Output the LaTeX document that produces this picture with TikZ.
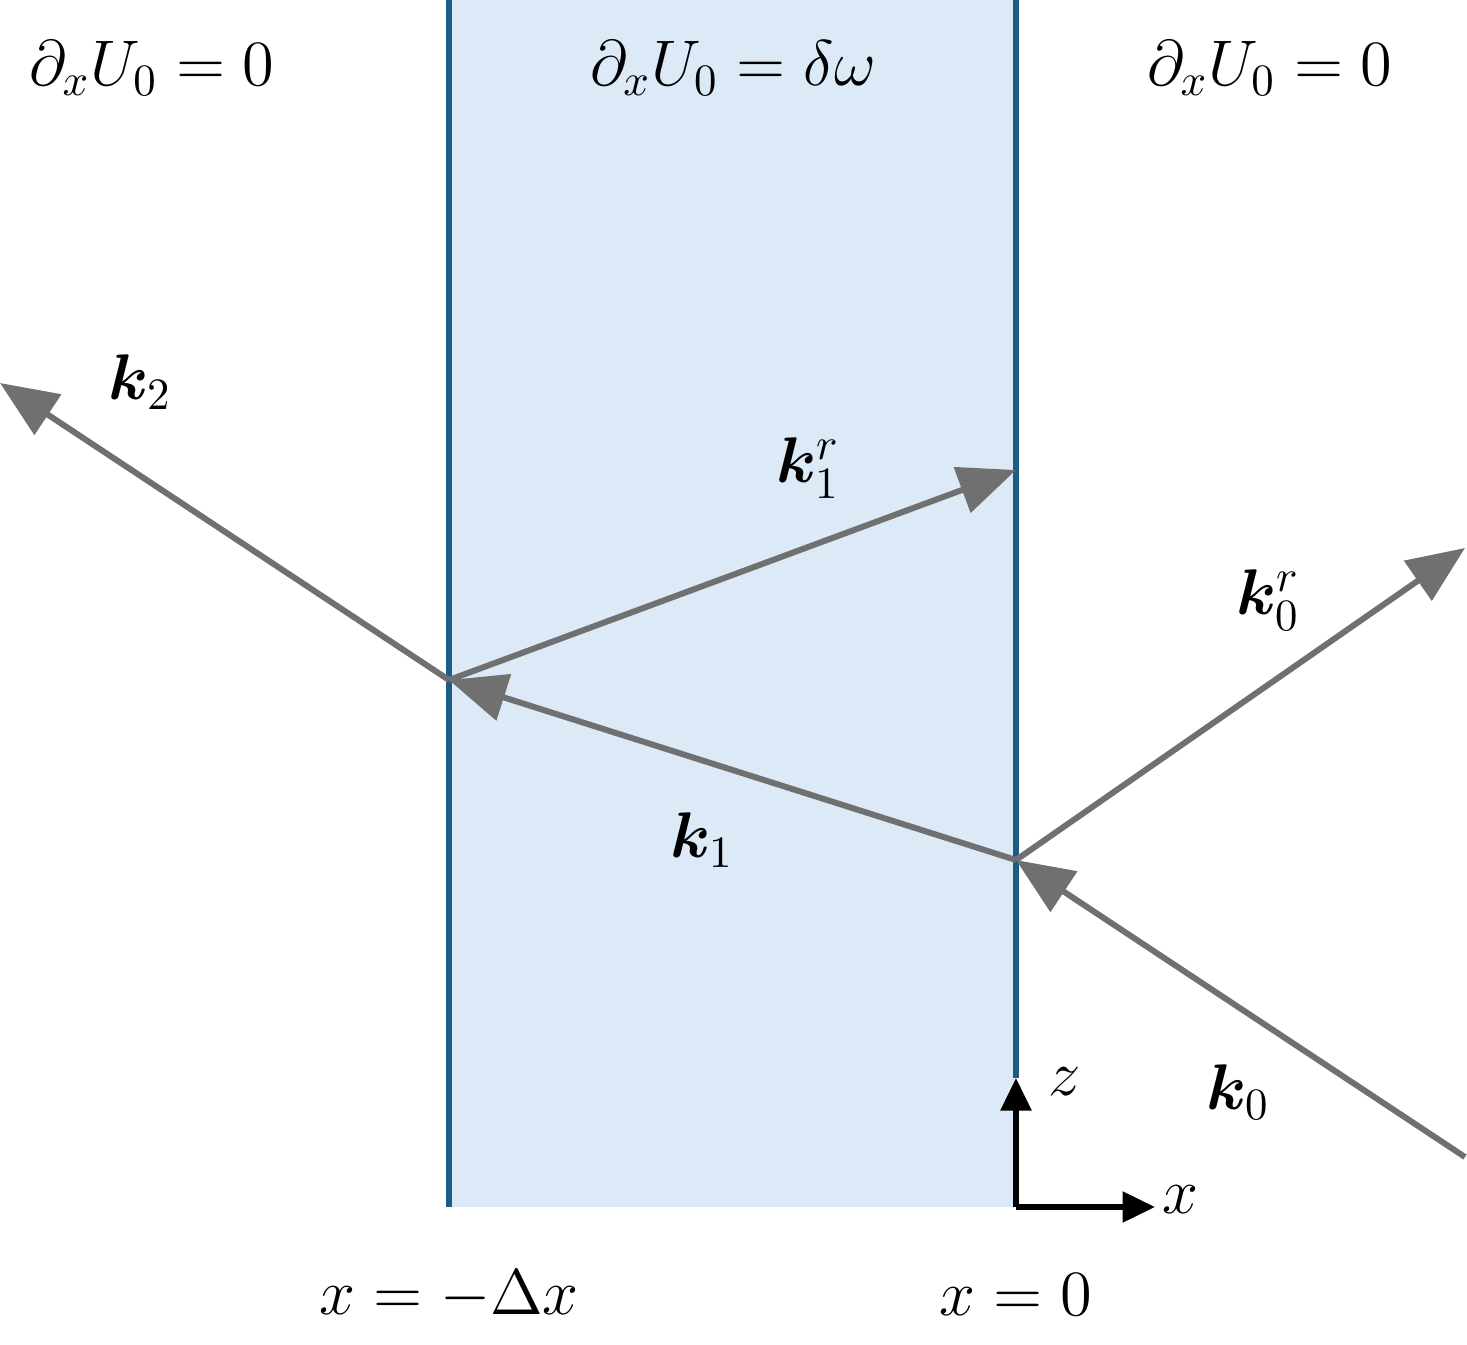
\documentclass[tikz,border=0pt]{standalone}
\usetikzlibrary{arrows.meta}
\usepackage{amsmath,bm,graphicx}
\newcommand{\bigt}[1]{\scalebox{2.55}{\fontsize{14}{17}\selectfont #1}}
\begin{document}
\begin{tikzpicture}[x=0.02cm,y=-0.02cm,
  ray/.style={color={rgb,255:red,112;green,112;blue,112}, line width=3.4pt, -{Triangle[length=1.15cm,width=0.95cm]}},
  wall/.style={draw={rgb,255:red,27;green,94;blue,133}, line width=3.2pt},
  ax/.style={line width=3.2pt, -{Triangle[length=0.65cm,width=0.6cm]}},
  lbl/.style={inner sep=0pt}]
\useasboundingbox (0,0) rectangle (1467,1345);
\fill[fill={rgb,255:red,220;green,233;blue,246}] (449,0) rectangle (1016,1207);
\draw[wall] (449,0) -- (449,1207);
\draw[wall] (1016,0) -- (1016,1078);
\coordinate (s0) at (1465,1157);
\coordinate (p) at (1016,860);
\coordinate (e0) at (1465,548);
\coordinate (q) at (449,680);
\coordinate (e1) at (1016,470);
\coordinate (e2) at (0,383);
\draw[ray] (s0) -- (p);
\draw[ray] (p) -- (e0);
\draw[ray] (p) -- (q);
\draw[ray] (q) -- (e1);
\draw[ray] (q) -- (e2);
\coordinate (o) at (1016,1207);
\coordinate (zt) at (1016,1078);
\coordinate (xt) at (1155,1207);
\draw[ax] (o) -- (zt);
\draw[ax] (o) -- (xt);
\node[lbl] (t1) at (152,68) {\bigt{$\partial_x U_0 = 0$}};
\node[lbl] (t2) at (733,68) {\bigt{$\partial_x U_0 = \delta\omega$}};
\node[lbl] (t3) at (1270,68) {\bigt{$\partial_x U_0 = 0$}};
\node[lbl] (k2) at (140,382) {\bigt{$\bm{k}_2$}};
\node[lbl] (k1r) at (808,468) {\bigt{$\bm{k}_1^r$}};
\node[lbl] (k0r) at (1268,600) {\bigt{$\bm{k}_0^r$}};
\node[lbl] (k1) at (702,840) {\bigt{$\bm{k}_1$}};
\node[lbl] (k0) at (1238,1092) {\bigt{$\bm{k}_0$}};
\node[lbl] (z) at (1065,1082) {\bigt{$z$}};
\node[lbl] (x) at (1180,1200) {\bigt{$x$}};
\node[lbl] (xl) at (449,1295) {\bigt{$x = -\Delta x$}};
\node[lbl] (xr) at (1016,1295) {\bigt{$x = 0$}};
\end{tikzpicture}
\end{document}
